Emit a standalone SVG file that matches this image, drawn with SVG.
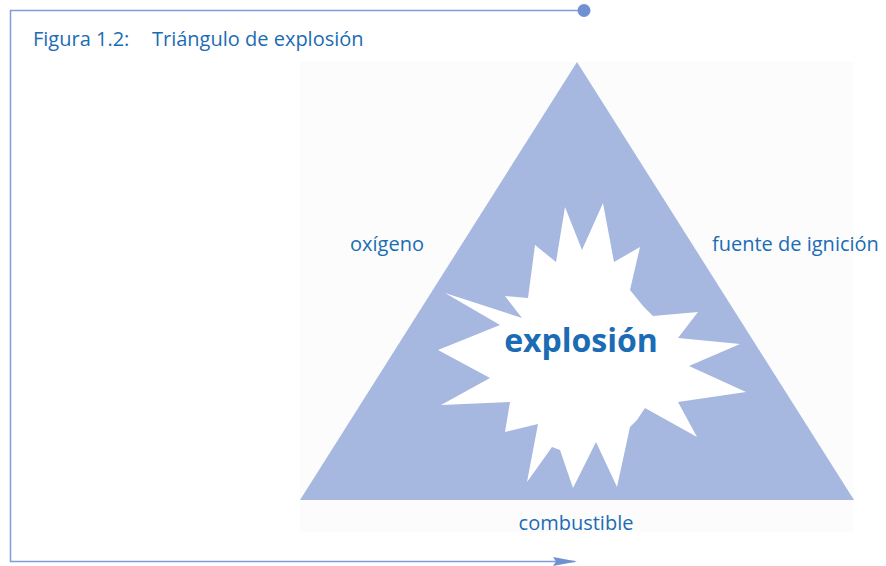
<svg xmlns="http://www.w3.org/2000/svg" width="886" height="566" viewBox="0 0 886 566">
  <defs>
    <style>
      .lbl { font-family: "Open Sans", "Liberation Sans", sans-serif; font-size: 20px; fill: #1b6cb4; }
      .big { font-family: "Open Sans", "Liberation Sans", sans-serif; font-size: 32px; font-weight: bold; fill: #1b6cb4; }
      .frame { fill: none; stroke: #819cd6; stroke-width: 1.5; }
    </style>
    <marker id="arrow" viewBox="0 0 24 10" refX="22" refY="5" markerWidth="24" markerHeight="10" markerUnits="userSpaceOnUse" orient="auto">
      <path d="M0,0.5 L24,5 L0,9.5 L3,5 Z" fill="#7091d1"/>
    </marker>
  </defs>

  <rect width="886" height="566" fill="#ffffff"/>

  <!-- figure frame: top rule with dot, left rule, bottom rule with arrow -->
  <g id="connectors">
    <polyline class="frame" points="584,10.5 10.5,10.5 10.5,561.5 575,561.5" marker-end="url(#arrow)"/>
    <circle cx="584" cy="10.5" r="6.5" fill="#7091d1"/>
  </g>

  <g id="title">
    <text class="lbl" y="46"><tspan x="33">Figura 1.2:</tspan><tspan x="152">Triángulo de explosión</tspan></text>
  </g>

  <!-- pale panel behind the triangle -->
  <rect x="300" y="62" width="554" height="470" fill="#fcfcfd"/>

  <g id="triangle">
    <polygon points="577,62 854,500 300,500" fill="#a6b8df"/>
  </g>

  <g id="burst">
    <polygon fill="#ffffff" points="565,207 582,250 603,203 614,262 640,247 630,290 643,306 653,316 698,312 678,338 740,344 689,366 746,392 678,402 697,437 645,408 637,420 630,427 617,487 596,442 573,488 560,450 552,447 527,482 538,424 505,432 510,402 441,405 490,378 438,350 500,325 445,293 522,318 505,296 528,298 535,245 556,262"/>
    <text class="big" x="581" y="352" text-anchor="middle">explosión</text>
  </g>

  <g id="oxigeno">
    <text class="lbl" x="350" y="251">oxígeno</text>
  </g>
  <g id="ignicion">
    <text class="lbl" x="712" y="251">fuente de ignición</text>
  </g>
  <g id="combustible">
    <text class="lbl" x="576" y="530" text-anchor="middle">combustible</text>
  </g>
</svg>
